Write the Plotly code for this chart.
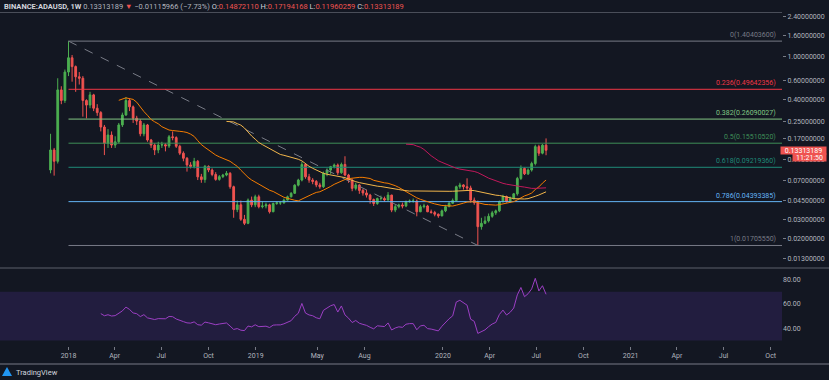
import numpy as np
import pandas as pd
import plotly.graph_objects as go

# ---------------- data (weekly candles) ----------------
first_week = "2017-11-27"

open_ = [0.087, 0.134, 0.105, 0.49, 0.39, 0.72, 0.98, 0.81, 0.65, 0.63,
         0.39, 0.353, 0.44, 0.33, 0.30, 0.22, 0.155, 0.185, 0.149, 0.16,
         0.23, 0.285, 0.39, 0.34, 0.266, 0.25, 0.19, 0.23, 0.166, 0.149,
         0.134, 0.149, 0.15, 0.146, 0.178, 0.175, 0.145, 0.125, 0.112, 0.097,
         0.094, 0.105, 0.075, 0.0707, 0.094, 0.087, 0.079, 0.071, 0.0753, 0.078,
         0.081, 0.0606, 0.037, 0.041, 0.030, 0.0275, 0.0454, 0.041, 0.0488, 0.0394,
         0.040, 0.041, 0.0353, 0.0422, 0.0428, 0.0428, 0.0454, 0.0488, 0.0526, 0.0627,
         0.070, 0.098, 0.075, 0.070, 0.068, 0.063, 0.0606, 0.081, 0.0868, 0.0935,
         0.0968, 0.082, 0.098, 0.078, 0.070, 0.0585, 0.063, 0.056, 0.053, 0.0506,
         0.046, 0.0422, 0.047, 0.047, 0.0455, 0.0506, 0.0366, 0.0394, 0.0409, 0.040,
         0.0438, 0.0445, 0.0445, 0.0353, 0.0394, 0.040, 0.0353, 0.0347, 0.0335, 0.0323,
         0.036, 0.0394, 0.0424, 0.045, 0.0606, 0.063, 0.0606, 0.059, 0.0454, 0.0429,
         0.0256, 0.0275, 0.029, 0.032, 0.0345, 0.036, 0.044, 0.049, 0.044, 0.047,
         0.052, 0.0725, 0.09, 0.08, 0.087, 0.10, 0.144, 0.125, 0.1487]

high = [0.19, 0.14, 0.63, 0.53, 0.76, 1.404036, 1.04, 0.83, 0.72, 0.66,
        0.40, 0.47, 0.45, 0.36, 0.31, 0.23, 0.21, 0.20, 0.18, 0.24,
        0.30, 0.42, 0.41, 0.35, 0.28, 0.26, 0.24, 0.235, 0.17, 0.155,
        0.16, 0.16, 0.155, 0.185, 0.20, 0.18, 0.15, 0.13, 0.115, 0.103,
        0.113, 0.108, 0.08, 0.097, 0.096, 0.09, 0.083, 0.078, 0.08, 0.085,
        0.083, 0.062, 0.045, 0.045, 0.033, 0.047, 0.049, 0.051, 0.051, 0.044,
        0.043, 0.042, 0.043, 0.044, 0.044, 0.047, 0.05, 0.054, 0.064, 0.072,
        0.104, 0.10, 0.08, 0.073, 0.07, 0.066, 0.084, 0.09, 0.095, 0.10,
        0.10, 0.102, 0.117, 0.08, 0.072, 0.066, 0.064, 0.058, 0.057, 0.052,
        0.047, 0.048, 0.05, 0.049, 0.054, 0.051, 0.041, 0.042, 0.043, 0.045,
        0.046, 0.047, 0.046, 0.041, 0.042, 0.041, 0.037, 0.036, 0.034, 0.037,
        0.041, 0.044, 0.047, 0.062, 0.066, 0.064, 0.0727, 0.062, 0.048, 0.045,
        0.031, 0.032, 0.034, 0.036, 0.037, 0.045, 0.051, 0.05, 0.049, 0.053,
        0.075, 0.096, 0.092, 0.09, 0.104, 0.15, 0.15, 0.152, 0.17194168]

low = [0.081, 0.077, 0.10, 0.36, 0.37, 0.66, 0.585, 0.47, 0.55, 0.275,
       0.265, 0.33, 0.31, 0.28, 0.20, 0.12, 0.14, 0.14, 0.14, 0.155,
       0.22, 0.28, 0.31, 0.24, 0.23, 0.18, 0.18, 0.16, 0.14, 0.12,
       0.125, 0.14, 0.13, 0.14, 0.165, 0.14, 0.12, 0.105, 0.084, 0.09,
       0.09, 0.07, 0.066, 0.066, 0.083, 0.076, 0.069, 0.069, 0.073, 0.076,
       0.058, 0.031, 0.035, 0.029, 0.0265, 0.027, 0.039, 0.039, 0.038, 0.038,
       0.038, 0.034, 0.035, 0.041, 0.041, 0.042, 0.045, 0.048, 0.052, 0.061,
       0.068, 0.072, 0.066, 0.064, 0.060, 0.058, 0.059, 0.076, 0.08, 0.09,
       0.078, 0.08, 0.076, 0.066, 0.055, 0.056, 0.052, 0.050, 0.048, 0.042,
       0.040, 0.041, 0.045, 0.044, 0.045, 0.035, 0.035, 0.038, 0.038, 0.039,
       0.043, 0.043, 0.032, 0.035, 0.038, 0.035, 0.034, 0.032, 0.031, 0.032,
       0.035, 0.039, 0.042, 0.045, 0.058, 0.057, 0.056, 0.043, 0.041, 0.0170555,
       0.024, 0.027, 0.028, 0.031, 0.033, 0.035, 0.043, 0.043, 0.043, 0.046,
       0.050, 0.07, 0.078, 0.078, 0.084, 0.096, 0.118, 0.122, 0.11960259]

close = [0.134, 0.105, 0.49, 0.39, 0.72, 0.98, 0.81, 0.65, 0.63, 0.39,
         0.353, 0.44, 0.33, 0.30, 0.22, 0.155, 0.185, 0.149, 0.16, 0.23,
         0.285, 0.39, 0.34, 0.266, 0.25, 0.19, 0.23, 0.166, 0.149, 0.134,
         0.149, 0.15, 0.146, 0.178, 0.175, 0.145, 0.125, 0.112, 0.097, 0.094,
         0.105, 0.075, 0.0707, 0.094, 0.087, 0.079, 0.071, 0.0753, 0.078, 0.081,
         0.0606, 0.037, 0.041, 0.030, 0.0275, 0.0454, 0.041, 0.0488, 0.0394, 0.040,
         0.041, 0.0353, 0.0422, 0.0428, 0.0428, 0.0454, 0.0488, 0.0526, 0.0627, 0.070,
         0.098, 0.075, 0.070, 0.068, 0.063, 0.0606, 0.081, 0.0868, 0.0935, 0.0968,
         0.082, 0.098, 0.078, 0.070, 0.0585, 0.063, 0.056, 0.053, 0.0506, 0.046,
         0.0422, 0.047, 0.047, 0.0455, 0.0506, 0.0366, 0.0394, 0.0409, 0.040, 0.0438,
         0.0445, 0.0445, 0.0353, 0.0394, 0.040, 0.0353, 0.0347, 0.0335, 0.0323, 0.036,
         0.0394, 0.0424, 0.045, 0.0606, 0.063, 0.0606, 0.059, 0.0454, 0.0429, 0.0256,
         0.0275, 0.029, 0.032, 0.0345, 0.036, 0.044, 0.049, 0.044, 0.047, 0.052,
         0.0725, 0.09, 0.08, 0.087, 0.10, 0.144, 0.125, 0.1487, 0.13313189]

# Fibonacci retracement (from the Jan-2018 high to the Mar-2020 low)
fib_start_bar = 5
fib_end_bar = 119
fib_ratios = ["0", "0.236", "0.382", "0.5", "0.618", "0.786", "1"]
fib_prices = [1.40403600, 0.49642356, 0.26090027, 0.15510520,
              0.09219360, 0.04393385, 0.01705550]
fib_colors = ["#787b86", "#f23645", "#81c784", "#3f8f58", "#1f8a78", "#64b5f6", "#787b86"]

ma_lengths = [20, 50, 100]
ma_colors = ["#f57c00", "#f2b64b", "#c2185b"]

price_ticks = [2.4, 1.6, 1.0, 0.6, 0.4, 0.25, 0.17, 0.11, 0.07, 0.045, 0.03, 0.02, 0.013]
rsi_ticks = [40, 60, 80]
time_tick_dates = ["2018-01-01", "2018-04-01", "2018-07-01", "2018-10-01",
                   "2019-01-01", "2019-05-01", "2019-08-01",
                   "2020-01-01", "2020-04-01", "2020-07-01", "2020-10-01",
                   "2021-01-01", "2021-04-01", "2021-07-01", "2021-10-01"]
time_tick_text = ["2018", "Apr", "Jul", "Oct", "2019", "May", "Aug",
                  "2020", "Apr", "Jul", "Oct", "2021", "Apr", "Jul", "Oct"]

last_price = 0.13313189
countdown = "11:21:50"

# ---------------- derived series ----------------
dates = pd.date_range(first_week, periods=len(close), freq="7D")
cs = pd.Series(close, dtype=float)
mas = [cs.rolling(L).mean() for L in ma_lengths]

n = len(close)
L = 14
chg = cs.diff().to_numpy()
gain = np.where(chg > 0, chg, 0.0)
loss = np.where(chg < 0, -chg, 0.0)
ag = np.full(n, np.nan)
al = np.full(n, np.nan)
ag[L] = gain[1:L + 1].mean()
al[L] = loss[1:L + 1].mean()
for i in range(L + 1, n):
    ag[i] = (ag[i - 1] * (L - 1) + gain[i]) / L
    al[i] = (al[i - 1] * (L - 1) + loss[i]) / L
rsi = 100 - 100 / (1 + ag / al)

# ---------------- figure ----------------
BG = "#131722"
TXT = "#b2b5be"
UP = "#4caf50"
DN = "#ef5350"
FONT = "Roboto"

x_range = ["2017-08-20 11:00", "2021-10-23"]
x_end = x_range[1]

fig = go.Figure()

# fib dashed trend line
fig.add_trace(go.Scatter(
    x=[dates[fib_start_bar], dates[fib_end_bar]],
    y=[fib_prices[0], fib_prices[-1]],
    mode="lines", line=dict(color="#787b86", width=1, dash="dash"),
    hoverinfo="skip", showlegend=False, yaxis="y"))

# fib levels
for p, c in zip(fib_prices, fib_colors):
    fig.add_trace(go.Scatter(
        x=[dates[fib_start_bar], x_end], y=[p, p], mode="lines",
        line=dict(color=c, width=1), hoverinfo="skip", showlegend=False, yaxis="y"))

# moving averages
for m, c in zip(mas, ma_colors):
    fig.add_trace(go.Scatter(x=dates, y=m, mode="lines", line=dict(color=c, width=1),
                             hoverinfo="skip", showlegend=False, yaxis="y"))

fig.add_trace(go.Candlestick(
    x=dates, open=open_, high=high, low=low, close=close,
    increasing=dict(line=dict(color=UP, width=1), fillcolor=UP),
    decreasing=dict(line=dict(color=DN, width=1), fillcolor=DN),
    whiskerwidth=0, showlegend=False, yaxis="y", xaxis="x"))

fig.add_trace(go.Scatter(x=dates, y=rsi, mode="lines", line=dict(color="#9c3fc4", width=1),
                         hoverinfo="skip", showlegend=False, yaxis="y2", xaxis="x"))

H_PLOT = 346.0
split = (H_PLOT - 268) / H_PLOT
ylo = np.log10(0.01049)
yhi = np.log10(3.41)

fig.update_layout(
    width=829, height=380,
    margin=dict(l=0, r=47, t=0, b=34),
    paper_bgcolor=BG, plot_bgcolor=BG,
    font=dict(family=FONT, size=7, color=TXT),
    showlegend=False,
    xaxis=dict(type="date", range=x_range, anchor="y2", domain=[0, 1],
               tickvals=time_tick_dates, ticktext=time_tick_text,
               ticks="outside", ticklen=3, tickcolor="#787b86",
               showgrid=False, zeroline=False, showline=False,
               rangeslider=dict(visible=False), tickfont=dict(size=7, color=TXT)),
    yaxis=dict(type="log", domain=[split, 1], range=[ylo, yhi], side="right",
               tickvals=price_ticks, ticktext=["%.8f" % v for v in price_ticks],
               ticks="outside", ticklen=3, tickcolor="#787b86",
               showgrid=False, zeroline=False, showline=False,
               tickfont=dict(size=7, color=TXT)),
    yaxis2=dict(domain=[0, split], range=[25.5, 89.6], side="right", anchor="x",
                tickvals=rsi_ticks, ticktext=["%.2f" % v for v in rsi_ticks],
                ticks="", showgrid=False, zeroline=False, showline=False,
                tickfont=dict(size=7, color=TXT)),
)

shapes = []
# RSI band 30-70
shapes.append(dict(type="rect", xref="paper", yref="y2", x0=0, x1=1, y0=30, y1=70,
                   fillcolor="rgba(112,58,205,0.17)", line=dict(width=0), layer="below"))
# pane separator + borders
shapes.append(dict(type="line", xref="paper", yref="paper", x0=0, x1=829 / 782,
                   y0=split, y1=split, line=dict(color="#5d606b", width=1)))
shapes.append(dict(type="line", xref="paper", yref="paper", x0=0, x1=829 / 782,
                   y0=(H_PLOT - 364) / H_PLOT, y1=(H_PLOT - 364) / H_PLOT,
                   line=dict(color="#787b86", width=1)))
shapes.append(dict(type="line", xref="paper", yref="paper", x0=0, x1=1,
                   y0=(H_PLOT - 12.5) / H_PLOT, y1=(H_PLOT - 12.5) / H_PLOT,
                   line=dict(color="#4a4e59", width=1)))
# logo icon
shapes.append(dict(type="path", xref="paper", yref="paper",
                   path="M %f %f L %f %f L %f %f Z" % (2 / 782, (H_PLOT - 376) / H_PLOT,
                                                      7 / 782, (H_PLOT - 367) / H_PLOT,
                                                      12 / 782, (H_PLOT - 376) / H_PLOT),
                   fillcolor="#2196f3", line=dict(width=0)))
fig.update_layout(shapes=shapes)

ann = []
for r, p, c in zip(fib_ratios, fib_prices, fib_colors):
    ann.append(dict(xref="paper", yref="y", x=778 / 782, y=np.log10(p), xanchor="right",
                    yanchor="bottom", text="%s(%.8f)" % (r, p), showarrow=False,
                    font=dict(size=7, color=c, family=FONT), yshift=0))

ann.append(dict(xref="paper", yref="y", x=780 / 782, y=np.log10(last_price), xanchor="left",
                yanchor="middle", text="%.8f" % last_price, showarrow=False, bgcolor=DN,
                font=dict(size=7, color="#ffffff", family=FONT), width=45, height=7, borderpad=0))
ann.append(dict(xref="paper", yref="y", x=791.5 / 782, y=np.log10(0.1140), xanchor="left",
                yanchor="middle", text=countdown, showarrow=False, bgcolor=DN,
                font=dict(size=7, color="#ffffff", family=FONT), width=33, height=7, borderpad=0))

hdr = ("<b>BINANCE:ADAUSD, 1W</b> "
       "<span style='color:#b2b5be'>0.13313189</span> "
       "<span style='color:#ef5350'>▼</span> "
       "<span style='color:#b2b5be'>−0.01115966 (−7.73%)</span> "
       "O:<span style='color:#ef5350'>0.14872110</span> "
       "H:<span style='color:#ef5350'>0.17194168</span> "
       "L:<span style='color:#ef5350'>0.11960259</span> "
       "C:<span style='color:#ef5350'>0.13313189</span>")
ann.append(dict(xref="paper", yref="paper", x=2 / 782, y=(H_PLOT - 6.5) / H_PLOT,
                xanchor="left", yanchor="middle", text=hdr, showarrow=False,
                font=dict(size=7.5, color="#d1d4dc", family=FONT)))
ann.append(dict(xref="paper", yref="paper", x=14 / 782, y=(H_PLOT - 372) / H_PLOT,
                xanchor="left", yanchor="middle", text="TradingView", showarrow=False,
                font=dict(size=7.5, color="#d1d4dc", family=FONT)))
fig.update_layout(annotations=ann)

fig.write_html("out.html", config={"displayModeBar": False},
               post_script="document.body.style.margin='0';document.body.style.background='%s';" % BG)
